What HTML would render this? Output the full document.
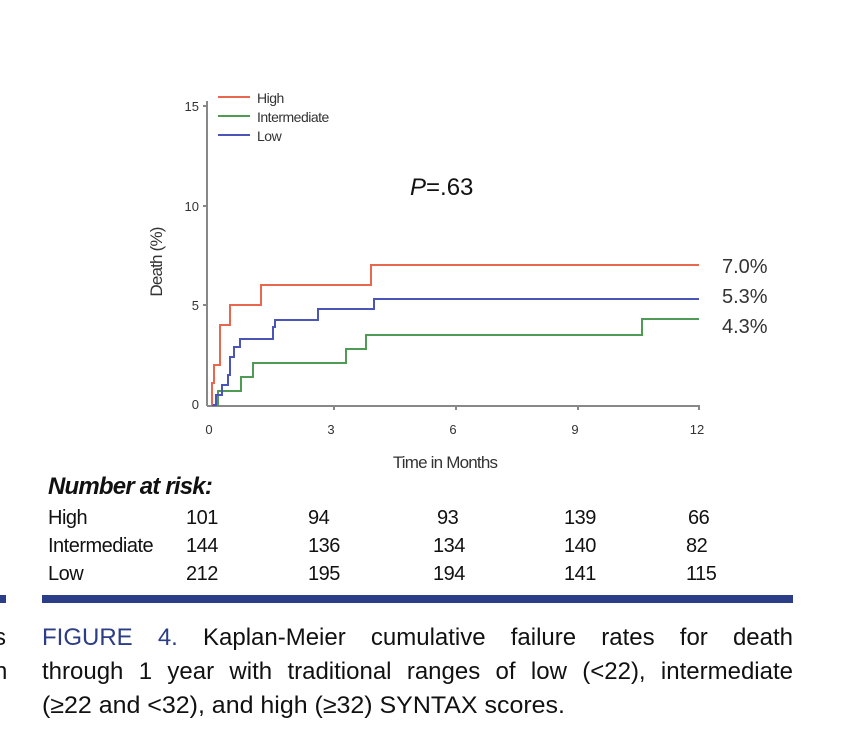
<!DOCTYPE html>
<html><head><meta charset="utf-8"><style>
body{margin:0;width:850px;height:756px;background:#fff;position:relative;overflow:hidden;font-family:"Liberation Sans",sans-serif}
.t{position:absolute;white-space:nowrap;color:#111}
.cl{position:absolute;left:42px;width:751px;font-size:24px;line-height:34px;color:#111;text-align:justify;text-align-last:justify;white-space:nowrap}
</style></head><body>
<svg width="850" height="600" style="position:absolute;left:0;top:0" font-family="Liberation Sans, sans-serif">
<g stroke="#888" stroke-width="2" fill="none">
<line x1="207" y1="101" x2="207" y2="406"/>
<line x1="207" y1="406" x2="700" y2="406"/>
<line x1="203" y1="106" x2="207" y2="106"/><line x1="203" y1="206" x2="207" y2="206"/><line x1="203" y1="305" x2="207" y2="305"/>
<line x1="334" y1="406" x2="334" y2="410"/><line x1="456" y1="406" x2="456" y2="410"/><line x1="578" y1="406" x2="578" y2="410"/><line x1="699" y1="406" x2="699" y2="410"/>
</g>
<g font-size="13" fill="#333" text-anchor="end">
<text x="199" y="111">15</text><text x="199" y="211">10</text><text x="199" y="310">5</text><text x="199" y="409">0</text>
</g>
<g font-size="13" fill="#333" text-anchor="middle">
<text x="209" y="434">0</text><text x="331" y="434">3</text><text x="453" y="434">6</text><text x="575" y="434">9</text><text x="697" y="434">12</text>
</g>
<text x="445" y="468" font-size="17" fill="#333" text-anchor="middle" letter-spacing="-0.8">Time in Months</text>
<text transform="translate(162,262) rotate(-90)" font-size="17" fill="#333" text-anchor="middle" letter-spacing="-0.8">Death (%)</text>
<g stroke-width="2">
<line x1="218" y1="97" x2="250" y2="97" stroke="#e8674f"/>
<line x1="218" y1="116" x2="250" y2="116" stroke="#4f9a55"/>
<line x1="218" y1="135" x2="250" y2="135" stroke="#4b55b8"/>
</g>
<g font-size="14" fill="#333" letter-spacing="-0.5">
<text x="257" y="103">High</text><text x="257" y="122">Intermediate</text><text x="257" y="141">Low</text>
</g>
<g fill="none" stroke-width="2">
<polyline stroke="#4f9a55" points="212,405 218,405 218,391 241,391 241,377 253,377 253,363 346,363 346,349 366,349 366,335 642,335 642,319 699,319"/>
<polyline stroke="#4b55b8" points="212,405 216,405 216,395 222,395 222,385 228,385 228,375 230,375 230,357 234,357 234,347 240,347 240,339 273,339 273,327 275,327 275,320 318,320 318,309 374,309 374,299 699,299"/>
<polyline stroke="#e8674f" points="212,405 212,383 214,383 214,365 220,365 220,325 230,325 230,305 261,305 261,285 371,285 371,265 699,265"/>
</g>
<text x="410" y="195" font-size="24" fill="#111"><tspan font-style="italic">P</tspan>=.63</text>
<g font-size="20" fill="#333">
<text x="722" y="273">7.0%</text><text x="722" y="303">5.3%</text><text x="722" y="333">4.3%</text>
</g>
</svg>
<div class="t" style="left:48px;top:473px;font-size:24px;font-weight:bold;font-style:italic;letter-spacing:-0.8px">Number at risk:</div>
<div style="position:absolute;left:0;top:504px;font-size:20px;line-height:28px;color:#111;letter-spacing:-0.5px">
<div class="t" style="left:48px;top:0">High</div><div class="t" style="left:186px;top:0">101</div><div class="t" style="left:308px;top:0">94</div><div class="t" style="left:437px;top:0">93</div><div class="t" style="left:564px;top:0">139</div><div class="t" style="left:688px;top:0">66</div>
<div class="t" style="left:48px;top:28px">Intermediate</div><div class="t" style="left:186px;top:28px">144</div><div class="t" style="left:308px;top:28px">136</div><div class="t" style="left:433px;top:28px">134</div><div class="t" style="left:564px;top:28px">140</div><div class="t" style="left:686px;top:28px">82</div>
<div class="t" style="left:48px;top:56px">Low</div><div class="t" style="left:186px;top:56px">212</div><div class="t" style="left:308px;top:56px">195</div><div class="t" style="left:433px;top:56px">194</div><div class="t" style="left:564px;top:56px">141</div><div class="t" style="left:686px;top:56px">115</div>
</div>
<div style="position:absolute;left:0;top:595px;width:6px;height:8px;background:#2b3d87"></div>
<div style="position:absolute;left:42px;top:595px;width:751px;height:8px;background:#2b3d87"></div>
<div class="t" style="left:-6px;top:621px;font-size:24px;line-height:34px">s<br>n<br>]</div>
<div class="cl" style="top:621px"><span style="color:#2b3d87">FIGURE 4.</span> Kaplan-Meier cumulative failure rates for death</div>
<div class="cl" style="top:655px">through 1 year with traditional ranges of low (&lt;22), intermediate</div>
<div class="t" style="left:42px;top:689px;font-size:24px;line-height:34px;transform:scaleX(1.04);transform-origin:left">(≥22 and &lt;32), and high (≥32) SYNTAX scores.</div>
</body></html>
